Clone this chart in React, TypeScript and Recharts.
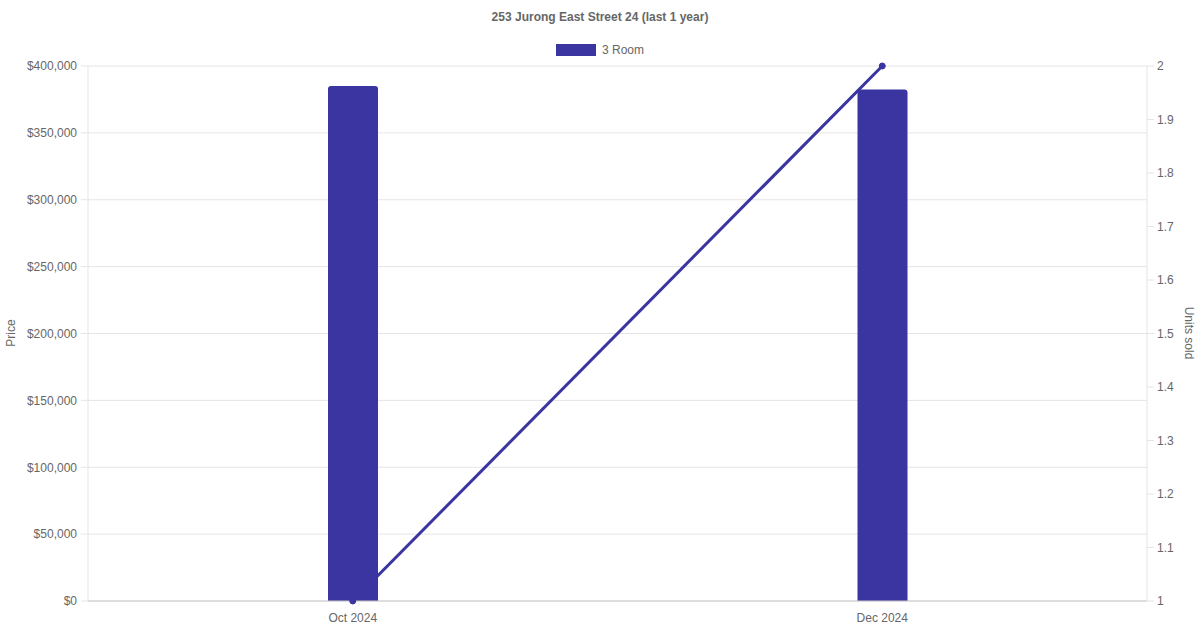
import React from 'react';
import { ComposedChart, Bar, Line, XAxis, YAxis, CartesianGrid } from 'recharts';

const categories = ['Oct 2024', 'Dec 2024'];
const priceValues = [385000, 382500];
const unitsSold = [1, 2];
const priceTicks = [0, 50000, 100000, 150000, 200000, 250000, 300000, 350000, 400000];
const unitTicks = [1, 1.1, 1.2, 1.3, 1.4, 1.5, 1.6, 1.7, 1.8, 1.9, 2];
const seriesName = '3 Room';
const title = '253 Jurong East Street 24 (last 1 year)';

const data = categories.map((c, i) => ({ month: c, price: priceValues[i], units: unitsSold[i] }));

const COLOR = '#3a35a0';
const FONT = '"Liberation Sans", Arial, Helvetica, sans-serif';
const TEXT = '#666';
const GRID = '#e5e5e5';

const fmtPrice = (v: number) => '$' + v.toLocaleString('en-US');
const fmtUnits = (v: number) => String(Math.round(v * 10) / 10);

export default function App() {
  return (
    <div style={{ position: 'absolute', left: 0, top: 0, width: 1200, height: 630, fontFamily: FONT, background: '#fff' }}>
      <div style={{ position: 'absolute', top: 9, left: 0, width: 1200, textAlign: 'center', fontSize: 12, fontWeight: 'bold', color: TEXT, lineHeight: '16px' }}>
        {title}
      </div>
      <div style={{ position: 'absolute', top: 42, left: 556, display: 'flex', alignItems: 'center', fontSize: 12, color: TEXT, lineHeight: '16px' }}>
        <span style={{ display: 'inline-block', width: 38, height: 10, background: COLOR, border: '1px solid ' + COLOR, marginRight: 6 }} />
        <span>{seriesName}</span>
      </div>
      <div style={{ position: 'absolute', left: 11, top: 333, transform: 'translate(-50%, -50%) rotate(-90deg)', fontSize: 12, color: TEXT, whiteSpace: 'nowrap' }}>
        Price
      </div>
      <div style={{ position: 'absolute', left: 1189, top: 333, transform: 'translate(-50%, -50%) rotate(90deg)', fontSize: 12, color: TEXT, whiteSpace: 'nowrap' }}>
        Units sold
      </div>
      <div style={{ position: 'absolute', left: 0, top: 0 }}>
        <ComposedChart width={1200} height={630} data={data} margin={{ top: 66, right: 0, bottom: 0, left: 0 }} style={{ fontFamily: FONT }}>
          <CartesianGrid yAxisId="left" vertical={false} stroke={GRID} strokeDasharray="" />
          <XAxis
            dataKey="month"
            height={29}
            tickLine={false}
            axisLine={{ stroke: '#c8c8c8' }}
            tick={{ fill: TEXT, fontSize: 12 }}
            tickMargin={6}
          />
          <YAxis
            yAxisId="left"
            orientation="left"
            width={88}
            domain={[0, 400000]}
            ticks={priceTicks}
            tickFormatter={fmtPrice}
            tick={{ fill: TEXT, fontSize: 12 }}
            tickSize={7}
            tickMargin={4}
            tickLine={{ stroke: GRID }}
            axisLine={{ stroke: GRID }}
            interval={0}
          />
          <YAxis
            yAxisId="right"
            orientation="right"
            width={53}
            domain={[1, 2]}
            ticks={unitTicks}
            tickFormatter={fmtUnits}
            tick={{ fill: TEXT, fontSize: 12 }}
            tickSize={7}
            tickMargin={3}
            tickLine={{ stroke: GRID }}
            axisLine={{ stroke: GRID }}
            interval={0}
          />
          <Line
            yAxisId="right"
            dataKey="units"
            type="linear"
            stroke={COLOR}
            strokeWidth={3}
            dot={{ r: 3, fill: COLOR, stroke: COLOR, strokeWidth: 1 }}
            activeDot={false}
            isAnimationActive={false}
          />
          <Bar
            yAxisId="left"
            dataKey="price"
            fill={COLOR}
            barSize={50}
            radius={[3, 3, 0, 0]}
            isAnimationActive={false}
          />
        </ComposedChart>
      </div>
    </div>
  );
}
